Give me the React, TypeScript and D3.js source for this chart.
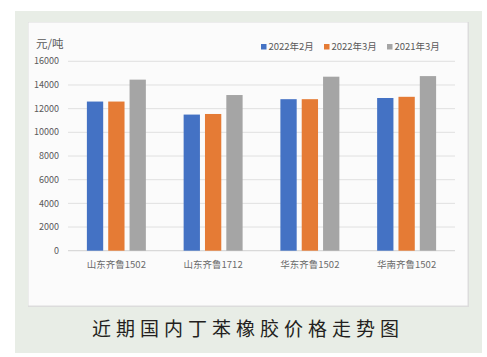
import React from "react";
import * as d3 from "d3";

const categories = ["山东齐鲁1502", "山东齐鲁1712", "华东齐鲁1502", "华南齐鲁1502"];
const seriesNames = ["2022年2月", "2022年3月", "2021年3月"];
const feb2022 = [12600, 11500, 12800, 12900];
const mar2022 = [12600, 11550, 12800, 13000];
const mar2021 = [14450, 13150, 14700, 14750];
const yTicks = [0, 2000, 4000, 6000, 8000, 10000, 12000, 14000, 16000];
const colors = ["#4472C4", "#E57B35", "#A5A5A5"];
const title = "近期国内丁苯橡胶价格走势图";
const unit = "元/吨";

export default function App() {
  const W = 487, H = 357;
  const series = [feb2022, mar2022, mar2021];
  const x0 = d3.scaleBand<string>().domain(categories).range([68, 455]).paddingInner(0).paddingOuter(0);
  const x1 = d3.scaleBand<string>().domain(seriesNames).range([0, x0.bandwidth()]).paddingInner(0.236).paddingOuter(0.885);
  const y = d3.scaleLinear().domain([0, 16000]).range([250.7, 61.3]);
  const font = "'Noto Sans CJK SC', 'Noto Sans', sans-serif";
  const legendX = [261, 324, 387];
  return (
    <div style={{ position: "absolute", left: 0, top: 0 }}>
      <svg width={W} height={H} style={{ display: "block" }}>
        <rect x={0} y={0} width={W} height={H} fill="#ffffff" />
        <rect x={15} y={11} width={467} height={342} fill="#E8EDE6" />
        <rect x={28} y={22} width={441} height={285} fill="#DCDCDC" />
        <rect x={28.5} y={22.5} width={439} height={283} fill="#FBFBFB" />
        <text x={36} y={48} fontSize={11.5} fill="#595959" fontFamily={font}>{unit}</text>
        {yTicks.map((t) => (
          <g key={t}>
            <line x1={68} x2={455} y1={y(t)} y2={y(t)} stroke={t === 0 ? "#D0D0D0" : "#E0E0E0"} strokeWidth={1} />
            <text x={59} y={y(t)} dy="0.35em" textAnchor="end" fontSize={9} fill="#595959" fontFamily={font}>{t}</text>
          </g>
        ))}
        {categories.map((c, i) => (
          <g key={c} transform={`translate(${x0(c)},0)`}>
            {seriesNames.map((s, j) => (
              <rect key={s} x={x1(s)} y={y(series[j][i])} width={x1.bandwidth()} height={y(0) - y(series[j][i])} fill={colors[j]} />
            ))}
            <text x={x0.bandwidth() / 2} y={268} textAnchor="middle" fontSize={9.5} fill="#6B6B6B" fontFamily={font}>{c}</text>
          </g>
        ))}
        {seriesNames.map((s, j) => (
          <g key={s}>
            <rect x={legendX[j]} y={44} width={5.5} height={5.5} fill={colors[j]} />
            <text x={legendX[j] + 7.5} y={47} dy="0.35em" fontSize={9.5} fill="#595959" fontFamily={font}>{s}</text>
          </g>
        ))}
        <text x={248} y={336} textAnchor="middle" fontSize={19} letterSpacing={5} fill="#231F20" fontFamily={font}>{title}</text>
      </svg>
    </div>
  );
}
